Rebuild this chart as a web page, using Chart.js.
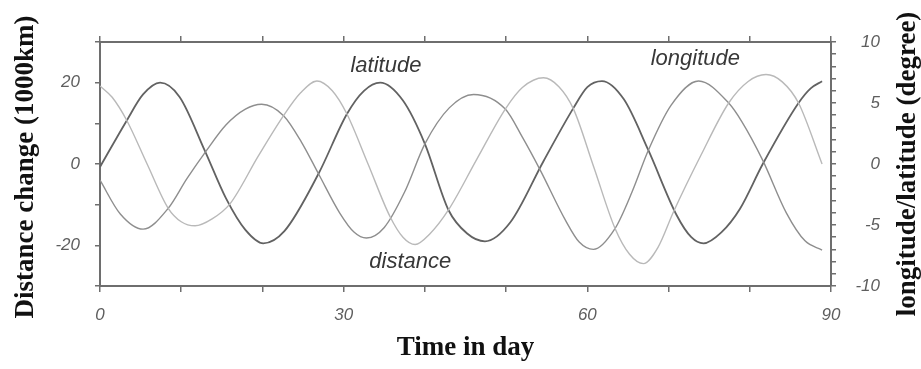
<!DOCTYPE html>
<html>
<head>
<meta charset="utf-8">
<title>Distance, latitude and longitude change</title>
<script src="https://cdn.jsdelivr.net/npm/chart.js@4.4.1/dist/chart.umd.min.js"></script>
<style>
  html, body { margin: 0; padding: 0; background: #fff; }
  canvas { display: block; }
</style>
</head>
<body>
<canvas id="chart" width="921" height="369"></canvas>
<script>
// Values
const distanceDays = [0, 1.5, 3.3, 5.8, 8.4, 10, 11.7, 13.8, 16, 19.5, 22.6, 24.7, 26.7, 28.6, 30.4, 33, 35.7, 37.3, 38.8, 40.6, 42.9, 46.4, 49.9, 52, 54.6, 56.5, 58.3, 60.8, 63.4, 65.2, 66.9, 68.7, 70.6, 74, 77.4, 79.8, 82, 84, 86, 88.9];
const distanceKm = [19.2, 16.4, 10.7, 0, -10.9, -14.2, -15.2, -13.5, -9.8, 2, 11.9, 17.5, 20.4, 18, 12.3, 0, -12.9, -18, -19.8, -17.2, -11.3, 1.2, 13.5, 18.8, 21.2, 19, 13.5, -0.8, -15.8, -22.2, -24.5, -20.5, -11.8, 2.2, 15, 20.3, 22, 20.2, 15, 0];

const latitudeDays = [0, 3.3, 5.3, 7.4, 9.8, 12.9, 15.5, 17.9, 20.1, 22.7, 26.9, 30.4, 32.5, 34.5, 37.3, 40, 42.9, 45.2, 47.4, 50.5, 54.6, 58.3, 60, 61.8, 64.5, 67.5, 71, 72.8, 74.3, 76.5, 78.8, 81.6, 86, 87.5, 88.9];
const latitudeDeg = [-0.24, 3.57, 5.7, 6.67, 5.5, 1.1, -2.8, -5.4, -6.5, -5.5, -0.8, 4.1, 6.0, 6.67, 5.2, 1.65, -3.77, -5.7, -6.34, -4.8, 0.23, 4.6, 6.3, 6.8, 5.3, 1.15, -4.2, -6.0, -6.5, -5.6, -3.66, 0, 5.0, 6.2, 6.78];

const longitudeDays = [0, 2.5, 5.3, 8.4, 10.7, 13.1, 15.5, 17.9, 19.9, 22.6, 24.8, 26.9, 29.5, 31.3, 32.8, 35, 37.5, 40, 43, 46, 49.9, 52, 54.2, 57.3, 59, 60.75, 63.4, 65.5, 67.5, 70.3, 73.7, 77.4, 79, 81.6, 84.5, 86.8, 88.9];
const longitudeDeg = [-1.33, -4.1, -5.34, -3.63, -1.2, 1.1, 3.2, 4.5, 4.9, 3.96, 1.8, -0.8, -4.0, -5.6, -6.07, -5.2, -2.3, 1.65, 4.6, 5.7, 4.5, 2.2, -0.5, -4.6, -6.4, -7.0, -5.3, -2.3, 1.1, 4.8, 6.8, 5.0, 3.5, 0.3, -4.0, -6.3, -7.05];

const dayLabels = [0, 30, 60, 90];
const kmLabels = [-20, 0, 20];
const degLabels = [-10, -5, 0, 5, 10];

const toPoints = (xs, ys) => xs.map((d, i) => ({ x: d, y: ys[i] }));

const tickFont = { family: '"Liberation Sans", Arial, sans-serif', size: 17, style: 'italic' };
const tickColor = '#5e5e5e';
const frameColor = '#6e6e6e';

// Axis titles and the in-plot curve names
const textPlugin = {
  id: 'plotText',
  afterDraw(chart) {
    const ctx = chart.ctx;
    const area = chart.chartArea;
    const xs = chart.scales.x;
    const ys = chart.scales.y;
    ctx.save();
    ctx.fillStyle = '#111';
    ctx.font = 'bold 27px "Liberation Serif", "Times New Roman", serif';
    ctx.textAlign = 'center';
    ctx.textBaseline = 'alphabetic';
    ctx.fillText('Time in day', (area.left + area.right) / 2, 355);

    ctx.save();
    ctx.translate(33, (area.top + area.bottom) / 2 + 3);
    ctx.rotate(-Math.PI / 2);
    ctx.fillText('Distance change (1000km)', 0, 0);
    ctx.restore();

    ctx.save();
    ctx.translate(915, (area.top + area.bottom) / 2);
    ctx.rotate(-Math.PI / 2);
    ctx.fillText('longitude/latitude (degree)', 0, 0);
    ctx.restore();

    ctx.fillStyle = '#383838';
    ctx.font = 'italic 22px "Liberation Sans", Arial, sans-serif';
    [['latitude', 35.2, 22.6], ['distance', 38.2, -25.6], ['longitude', 73.3, 24.3]].forEach(([t, d, v]) => {
      ctx.fillText(t, xs.getPixelForValue(d), ys.getPixelForValue(v));
    });
    ctx.restore();
  }
};

new Chart(document.getElementById('chart'), {
  type: 'line',
  data: {
    datasets: [
      {
        label: 'distance',
        data: toPoints(distanceDays, distanceKm),
        yAxisID: 'y',
        borderColor: '#b9b9b9',
        borderWidth: 1.4
      },
      {
        label: 'longitude',
        data: toPoints(longitudeDays, longitudeDeg),
        yAxisID: 'y2',
        borderColor: '#8e8e8e',
        borderWidth: 1.4
      },
      {
        label: 'latitude',
        data: toPoints(latitudeDays, latitudeDeg),
        yAxisID: 'y2',
        borderColor: '#626262',
        borderWidth: 1.8
      }
    ]
  },
  options: {
    responsive: false,
    animation: false,
    devicePixelRatio: 1,
    layout: { padding: { top: 0, right: 41, bottom: 0, left: 0 } },
    elements: {
      point: { radius: 0 },
      line: { cubicInterpolationMode: 'monotone', fill: false }
    },
    plugins: {
      legend: { display: false },
      tooltip: { enabled: false }
    },
    scales: {
      x: {
        type: 'linear',
        position: 'bottom',
        min: 0,
        max: 90,
        afterFit: s => { s.height = 83; },
        border: { display: true, color: frameColor, width: 2 },
        grid: { drawOnChartArea: false, drawTicks: true, tickLength: 6, color: frameColor, lineWidth: 1.5 },
        ticks: {
          stepSize: 10,
          padding: 13,
          color: tickColor,
          font: tickFont,
          maxRotation: 0,
          callback: v => dayLabels.includes(v) ? String(v) : ''
        }
      },
      x2: {
        type: 'linear',
        position: 'top',
        min: 0,
        max: 90,
        afterFit: s => { s.height = 42; },
        border: { display: true, color: frameColor, width: 2 },
        grid: { drawOnChartArea: false, drawTicks: true, tickLength: 6, color: frameColor, lineWidth: 1.5 },
        ticks: { stepSize: 10, display: false }
      },
      y: {
        type: 'linear',
        position: 'left',
        min: -30,
        max: 30,
        afterFit: s => { s.width = 100; },
        border: { display: true, color: frameColor, width: 2 },
        grid: { drawOnChartArea: false, drawTicks: true, tickLength: 5, color: frameColor, lineWidth: 1.5 },
        ticks: {
          stepSize: 10,
          padding: 15,
          color: tickColor,
          font: tickFont,
          callback: v => kmLabels.includes(v) ? String(v) : ''
        }
      },
      y2: {
        type: 'linear',
        position: 'right',
        min: -10,
        max: 10,
        afterFit: s => { s.width = 49; },
        border: { display: true, color: frameColor, width: 2 },
        grid: { drawOnChartArea: false, drawTicks: true, tickLength: 5, color: frameColor, lineWidth: 1.5 },
        ticks: {
          stepSize: 1,
          crossAlign: 'far',
          color: tickColor,
          font: tickFont,
          autoSkip: false,
          callback: v => degLabels.includes(v) ? String(v) : ''
        }
      }
    }
  },
  plugins: [textPlugin]
});
</script>
</body>
</html>
